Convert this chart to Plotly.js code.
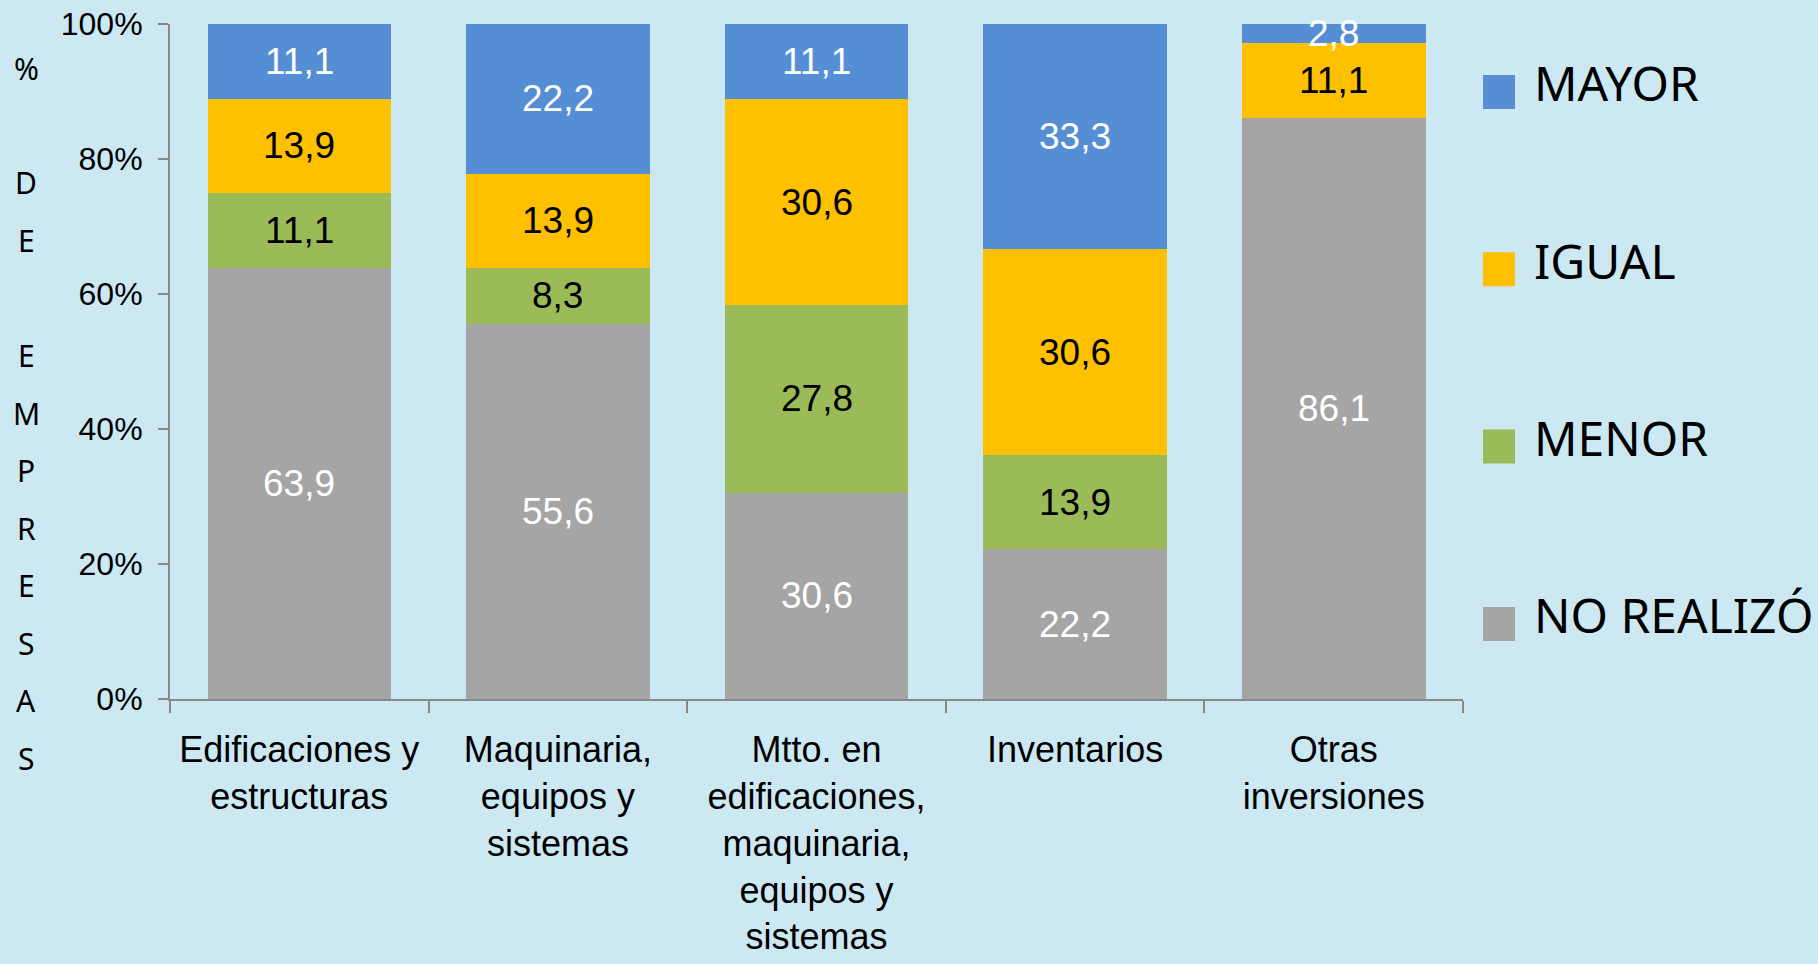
<!DOCTYPE html>
<html><head><meta charset="utf-8">
<script src="https://cdn.plot.ly/plotly-3.0.1.min.js"></script>
<style>html,body{margin:0;padding:0;background:#CCE8F2;}</style>
</head><body>
<div id="chart" style="width:1818px;height:964px;"></div>
<script>
// ---- data ----
const categories = ["Edificaciones y<br>estructuras", "Maquinaria,<br>equipos y<br>sistemas", "Mtto. en<br>edificaciones,<br>maquinaria,<br>equipos y<br>sistemas", "Inventarios", "Otras<br>inversiones"];
const noRealizo = [63.9, 55.6, 30.6, 22.2, 86.1];
const menor     = [11.1, 8.3, 27.8, 13.9, null];
const igual     = [13.9, 13.9, 30.6, 30.6, 11.1];
const mayor     = [11.1, 22.2, 11.1, 33.3, 2.8];
const seriesNames  = ["NO REALIZÓ", "MENOR", "IGUAL", "MAYOR"];
const seriesValues = [noRealizo, menor, igual, mayor];
const seriesColors = ["#A5A5A5", "#9BBB59", "#FFC000", "#558ED5"];
const labelColors  = ["#FFFFFF", "#000000", "#000000", "#FFFFFF"];
const yTickVals = [0, 20, 40, 60, 80, 100];
const yTickText = ["0%", "20%", "40%", "60%", "80%", "100%"];
const yTitleLetters = ["%", "", "D", "E", "", "E", "M", "P", "R", "E", "S", "A", "S"];

// ---- layout geometry (pixels) ----
const W = 1818, H = 964;
const M = {l: 170, r: 355, t: 24, b: 265};
const plotW = W - M.l - M.r, plotH = H - M.t - M.b;
const px2x = px => (px - M.l) / plotW;
const px2y = py => (H - M.b - py) / plotH;

const traces = seriesNames.map((name, i) => ({
  type: 'bar',
  name: name,
  x: categories,
  y: seriesValues[i],
  marker: {color: seriesColors[i], line: {width: 0}},
  showlegend: false,
  hoverinfo: 'skip'
}));

const shapes = [];
const annotations = [];
const fmt = v => v.toFixed(1).replace('.', ',');

// value labels, centred in each stacked segment (data coordinates, normalised to 100%)
categories.forEach((cat, j) => {
  const total = seriesValues.reduce((s, arr) => s + (arr[j] || 0), 0);
  let base = 0;
  seriesValues.forEach((arr, i) => {
    const v = arr[j];
    if (v === null || v === undefined) return;
    const h = v / total * 100;
    annotations.push({xref: 'x', yref: 'y', x: cat, y: base + h / 2,
      xanchor: 'center', yanchor: 'middle', showarrow: false, text: fmt(v),
      font: {family: 'Liberation Sans, Arial, sans-serif', size: 37, color: labelColors[i]}});
    base += h;
  });
});

// custom legend (top-to-bottom: reverse of stacking order)
const legendOrder = [3, 2, 1, 0];
legendOrder.forEach((si, k) => {
  const cy = 92 + k * 177.3;
  shapes.push({type: 'rect', xref: 'paper', yref: 'paper',
    x0: px2x(1483), x1: px2x(1515), y0: px2y(cy - 17), y1: px2y(cy + 17),
    fillcolor: seriesColors[si], line: {width: 0}});
  annotations.push({xref: 'paper', yref: 'paper', x: px2x(1532), y: px2y(cy - 9),
    xanchor: 'left', yanchor: 'middle', showarrow: false, text: seriesNames[si],
    font: {family: 'Noto Sans, Open Sans, sans-serif', size: 48, color: '#000000'}});
});
// vertical stacked y-axis title
yTitleLetters.forEach((ch, k) => {
  if (!ch) return;
  annotations.push({xref: 'paper', yref: 'paper', x: px2x(26), y: px2y(68 + k * 57.5),
    xanchor: 'center', yanchor: 'middle', showarrow: false, text: ch,
    font: {family: 'Noto Sans, Open Sans, sans-serif', size: 30, color: '#000000'}});
});

const layout = {
  width: W, height: H,
  margin: M,
  paper_bgcolor: '#CCE8F2',
  plot_bgcolor: '#CCE8F2',
  barmode: 'stack',
  barnorm: 'percent',
  bargap: 0.29,
  showlegend: false,
  xaxis: {
    type: 'category',
    tickson: 'boundaries',
    tickangle: 0,
    ticklabelstandoff: 18,
    ticks: 'outside', ticklen: 12, tickwidth: 2, tickcolor: '#898989',
    showline: true, linecolor: '#898989', linewidth: 2,
    showgrid: false, zeroline: false,
    tickfont: {family: 'Liberation Sans, Arial, sans-serif', size: 36, color: '#000000'}
  },
  yaxis: {
    range: [0, 100],
    tickmode: 'array',
    tickvals: yTickVals,
    ticktext: yTickText,
    ticklabelstandoff: 9,
    ticks: 'outside', ticklen: 10, tickwidth: 2, tickcolor: '#898989',
    showline: true, linecolor: '#898989', linewidth: 2,
    showgrid: false, zeroline: false,
    tickfont: {family: 'Liberation Sans, Arial, sans-serif', size: 32, color: '#000000'}
  },
  shapes: shapes,
  annotations: annotations
};

Plotly.newPlot('chart', traces, layout, {displayModeBar: false, staticPlot: true});
</script>
</body></html>
